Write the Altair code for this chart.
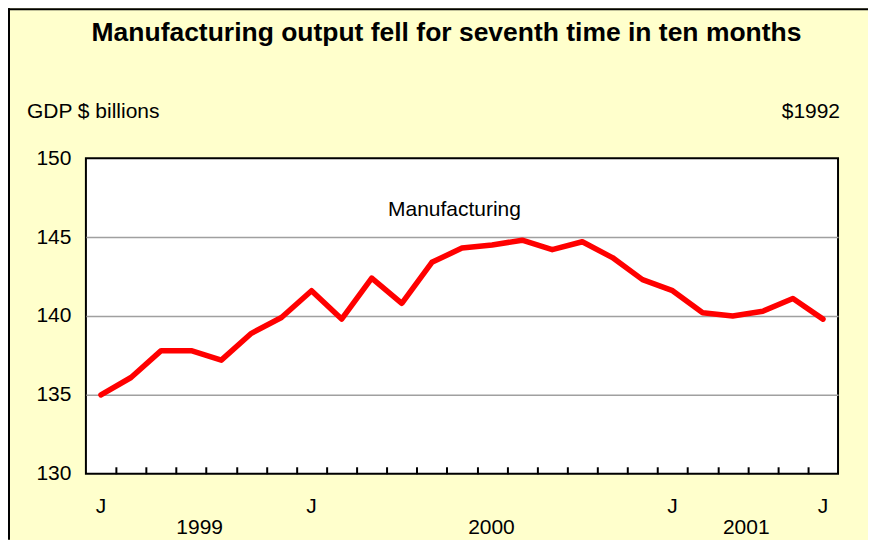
import altair as alt
import pandas as pd

# ---- data ----
months = ["Jun 1999", "Jul 1999", "Aug 1999", "Sep 1999", "Oct 1999", "Nov 1999", "Dec 1999",
          "Jan 2000", "Feb 2000", "Mar 2000", "Apr 2000", "May 2000", "Jun 2000", "Jul 2000",
          "Aug 2000", "Sep 2000", "Oct 2000", "Nov 2000", "Dec 2000",
          "Jan 2001", "Feb 2001", "Mar 2001", "Apr 2001", "May 2001", "Jun 2001"]
manufacturing = [135.0, 136.1, 137.8, 137.8, 137.2, 138.9, 139.9,
                 141.6, 139.8, 142.4, 140.8, 143.4, 144.3, 144.5,
                 144.8, 144.2, 144.7, 143.7, 142.3,
                 141.6, 140.2, 140.0, 140.3, 141.1, 139.8]
month_tick_labels = {"Jun 1999": "J", "Jan 2000": "J", "Jan 2001": "J", "Jun 2001": "J"}
year_labels = ["1999", "2000", "2001"]
year_positions = [3.28, 12.98, 21.45]   # in month units along the axis
y_ticks = [130, 135, 140, 145, 150]
series_label = "Manufacturing"
series_label_pos = (11.75, 146.7)

title_text = "Manufacturing output fell for seventh time in ten months"
left_note = "GDP $ billions"
right_note = "$1992"

# ---- tables ----
line_df = pd.DataFrame({"idx": list(range(len(months))), "month": months, "value": manufacturing})
jl = [(i, month_tick_labels[m]) for i, m in enumerate(months) if m in month_tick_labels]
jlab_df = pd.DataFrame({"idx": [a for a, _ in jl], "label": [b for _, b in jl]})
year_df = pd.DataFrame({"idx": year_positions, "label": year_labels})
ann_df = pd.DataFrame({"idx": [series_label_pos[0]], "value": [series_label_pos[1]], "label": [series_label]})
one = pd.DataFrame({"a": [0]})

W, H = 753, 316
PAD_R, PAD_B = 30, 66
FONT = "Liberation Sans"
n = len(months)
boundaries = [i + 0.5 for i in range(n - 1)]

xscale = alt.Scale(domain=[-0.5, n - 0.5], nice=False, zero=False)
xaxis = alt.Axis(values=boundaries, labels=False, domain=False, ticks=True, tickSize=7,
                 tickWidth=2, tickColor="black", offset=-7, grid=False, title=None)
yscale = alt.Scale(domain=[130, 150], nice=False, zero=False)
yaxis = alt.Axis(values=y_ticks, domain=False, ticks=False, labelPadding=15,
                 labelFontSize=21, labelFont=FONT, labelColor="black", grid=True,
                 gridColor={"condition": {"test": "datum.value == 130 || datum.value == 150",
                                          "value": "transparent"}, "value": "#a0a0a0"},
                 gridWidth=1.5, title=None)

X = alt.X("idx:Q", scale=xscale, axis=xaxis)
Y = alt.Y("value:Q", scale=yscale, axis=yaxis)

# outer frame: only top and left edges are visible in the reference
frame_top = alt.Chart(one).mark_rule(color="black", strokeWidth=2).encode(
    x=alt.value(-78), x2=alt.value(W + PAD_R), y=alt.value(-149))
frame_left = alt.Chart(one).mark_rule(color="black", strokeWidth=2).encode(
    x=alt.value(-77), y=alt.value(-150), y2=alt.value(H + PAD_B))

line = alt.Chart(line_df).mark_line(color="#ff0000", strokeWidth=5.5, strokeCap="round",
                                    strokeJoin="round").encode(x=X, y=Y)

ann = alt.Chart(ann_df).mark_text(font=FONT, fontSize=21, color="black", baseline="middle").encode(
    x=X, y=Y, text="label:N")

jtext = alt.Chart(jlab_df).mark_text(font=FONT, fontSize=21, color="black", baseline="middle").encode(
    x=X, y=alt.value(349), text="label:N")

ytext = alt.Chart(year_df).mark_text(font=FONT, fontSize=21, color="black", baseline="middle").encode(
    x=X, y=alt.value(370), text="label:N")

title = alt.Chart(one).mark_text(font=FONT, fontSize=26.5, fontWeight="bold", color="black",
                                 baseline="middle", align="center").encode(
    x=alt.value(361), y=alt.value(-125), text=alt.value(title_text))

lnote = alt.Chart(one).mark_text(font=FONT, fontSize=21, color="black", baseline="middle",
                                 align="left").encode(
    x=alt.value(-59), y=alt.value(-46), text=alt.value(left_note))

rnote = alt.Chart(one).mark_text(font=FONT, fontSize=21, color="black", baseline="middle",
                                 align="right").encode(
    x=alt.value(755), y=alt.value(-46), text=alt.value(right_note))

chart = alt.layer(frame_top, frame_left, line, ann, jtext, ytext, title, lnote, rnote).properties(
    width=W, height=H,
    autosize=alt.AutoSizeParams(type="none"),
    padding={"left": 78, "top": 150, "right": PAD_R, "bottom": PAD_B},
    background="#FFFFCC",
).configure_view(stroke="black", strokeWidth=2, fill="white")

chart.save("out.html", embed_options={"renderer": "svg", "actions": False})
